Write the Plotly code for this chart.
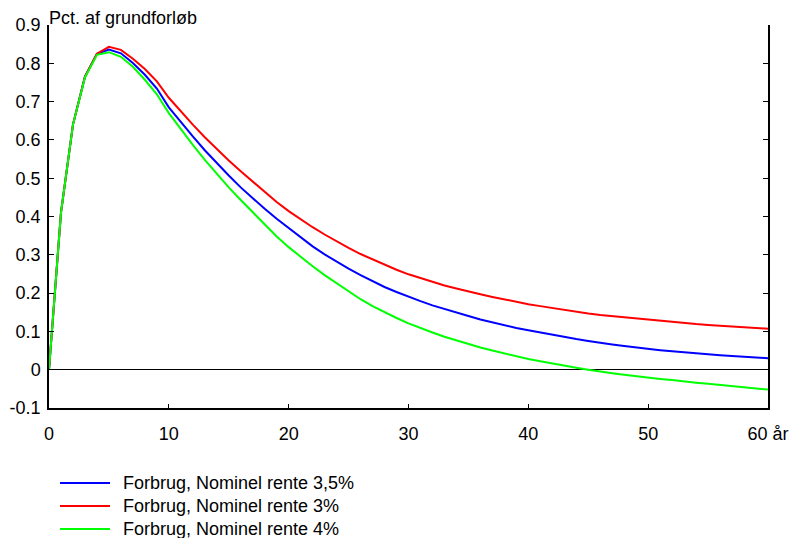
import plotly.graph_objects as go

# Years after the shock
years = list(range(0, 61))

# Consumption response, percent of baseline
forbrug_35 = [
    0.000, 0.410, 0.640, 0.765, 0.825, 0.836, 0.826, 0.801, 0.770, 0.734,
    0.685, 0.646, 0.609, 0.573, 0.539, 0.507, 0.476, 0.447, 0.420, 0.394,
    0.370, 0.344, 0.322, 0.301, 0.282, 0.264, 0.247, 0.231, 0.216, 0.203,
    0.190, 0.179, 0.168, 0.158, 0.149, 0.140, 0.131, 0.123, 0.116, 0.109,
    0.103, 0.097, 0.091, 0.085, 0.080, 0.075, 0.070, 0.066, 0.062, 0.058,
    0.054, 0.051, 0.048, 0.045, 0.043, 0.040, 0.038, 0.036, 0.034, 0.032,
    0.030,
]
forbrug_3 = [
    0.000, 0.410, 0.640, 0.765, 0.825, 0.843, 0.835, 0.812, 0.785, 0.753,
    0.710, 0.674, 0.640, 0.607, 0.576, 0.546, 0.518, 0.491, 0.466, 0.438,
    0.414, 0.392, 0.372, 0.353, 0.335, 0.318, 0.302, 0.288, 0.274, 0.261,
    0.249, 0.239, 0.229, 0.220, 0.212, 0.204, 0.197, 0.190, 0.183, 0.177,
    0.171, 0.166, 0.161, 0.156, 0.152, 0.147, 0.143, 0.140, 0.136, 0.133,
    0.130, 0.127, 0.124, 0.122, 0.119, 0.117, 0.115, 0.113, 0.111, 0.109,
    0.107,
]
forbrug_4 = [
    0.000, 0.410, 0.640, 0.763, 0.822, 0.829, 0.817, 0.791, 0.757, 0.719,
    0.670, 0.628, 0.587, 0.548, 0.511, 0.476, 0.443, 0.411, 0.381, 0.348,
    0.320, 0.294, 0.270, 0.247, 0.226, 0.203, 0.184, 0.166, 0.150, 0.135,
    0.121, 0.108, 0.097, 0.086, 0.076, 0.067, 0.058, 0.050, 0.042, 0.035,
    0.028, 0.022, 0.016, 0.010, 0.005, 0.000, -0.005, -0.009, -0.013, -0.017,
    -0.021, -0.024, -0.027, -0.031, -0.034, -0.037, -0.040, -0.043, -0.046, -0.049,
    -0.052,
]

series_names = [
    "Forbrug, Nominel rente 3,5%",
    "Forbrug, Nominel rente 3%",
    "Forbrug, Nominel rente 4%",
]
series_values = [forbrug_35, forbrug_3, forbrug_4]
series_colors = ["#0000ff", "#ff0000", "#00ff00"]

x_tickvals = [0, 10, 20, 30, 40, 50, 60]
x_ticktext = ["0", "10", "20", "30", "40", "50", "60 år"]
y_tickvals = [-0.1, 0, 0.1, 0.2, 0.3, 0.4, 0.5, 0.6, 0.7, 0.8, 0.9]
y_ticktext = ["-0.1", "0", "0.1", "0.2", "0.3", "0.4", "0.5", "0.6", "0.7", "0.8", "0.9"]

font_family = "Liberation Sans, Arial, sans-serif"
W, H = 801, 538
M_L, M_R, M_T, M_B = 49, 33, 25, 130
plot_w = W - M_L - M_R
plot_h = H - M_T - M_B


def px_to_paper(px, py):
    """Convert page pixels to paper coordinates of the plot area."""
    return (px - M_L) / plot_w, (H - M_B - py) / plot_h


fig = go.Figure()
for name, vals, color in zip(series_names, series_values, series_colors):
    fig.add_trace(go.Scatter(
        x=years, y=vals, name=name, mode="lines",
        line=dict(color=color, width=2),
    ))

# Key below the plot: a short coloured line and the series name per row
shapes, annotations = [], []
for i, (name, color) in enumerate(zip(series_names, series_colors)):
    row_y = 483 + i * 23
    x0, y0 = px_to_paper(60, row_y)
    x1, _ = px_to_paper(110, row_y)
    xt, _ = px_to_paper(121, row_y)
    shapes.append(dict(
        type="line", xref="paper", yref="paper",
        x0=x0, x1=x1, y0=y0, y1=y0,
        line=dict(color=color, width=2),
    ))
    annotations.append(dict(
        text=name, xref="paper", yref="paper", x=xt, y=y0,
        xanchor="left", yanchor="middle", showarrow=False,
        font=dict(size=18),
    ))

annotations.append(dict(
    text="Pct. af grundforløb", xref="paper", yref="paper",
    x=0.0, y=1.0, xanchor="left", yanchor="bottom",
    showarrow=False, font=dict(size=18), xshift=-2, yshift=-5,
))

fig.update_layout(
    width=W, height=H,
    margin=dict(l=M_L, r=M_R, t=M_T, b=M_B, autoexpand=False),
    paper_bgcolor="white", plot_bgcolor="white",
    font=dict(family=font_family, size=18, color="black"),
    showlegend=False,
    xaxis=dict(
        range=[0, 60], tickvals=x_tickvals, ticktext=x_ticktext,
        showgrid=False, zeroline=False,
        showline=True, linecolor="black", linewidth=1.5,
        ticks="inside", ticklen=4, tickcolor="black", tickwidth=1,
        mirror=False, ticklabelstandoff=9,
    ),
    yaxis=dict(
        range=[-0.1, 0.9], tickvals=y_tickvals, ticktext=y_ticktext,
        showgrid=False,
        zeroline=True, zerolinecolor="black", zerolinewidth=1,
        showline=True, linecolor="black", linewidth=1.5,
        ticks="inside", ticklen=5, tickcolor="black", tickwidth=1,
        mirror="ticks", ticklabelstandoff=3,
    ),
    shapes=shapes,
    annotations=annotations,
)

fig.write_html("out.html")
